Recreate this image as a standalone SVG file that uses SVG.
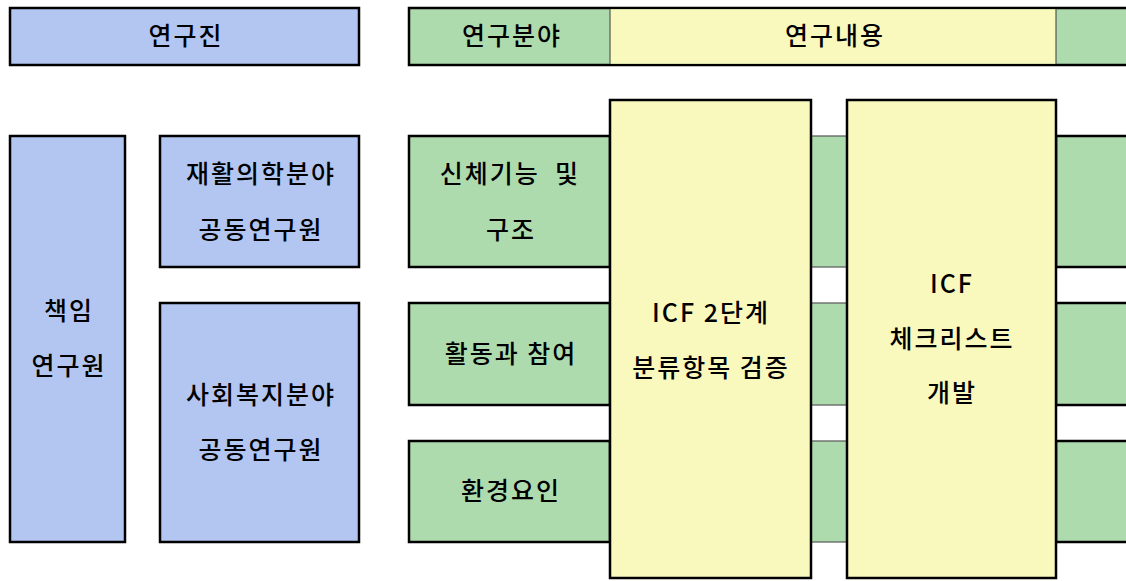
<svg xmlns="http://www.w3.org/2000/svg" width="1126" height="581" viewBox="0 0 1126 581">
<style>
.b{fill:#b3c6f2;stroke:#000;stroke-width:2.5}
.g{fill:#aedbae;stroke:#000;stroke-width:2.5}
.gt{fill:#aedbae;stroke:#555;stroke-width:1.2}
.y{fill:#f9f9be;stroke:#000;stroke-width:2.5}
.yt{fill:#f9f9be}
.sep{stroke:#555;stroke-width:1.2}
text{font-family:"Noto Sans CJK KR","Noto Sans",sans-serif;font-size:25px;font-weight:500;fill:#000;text-anchor:middle;letter-spacing:2px}
</style>
<rect width="1126" height="581" fill="#fff"/>
<g id="header-team">
<rect class="b" x="10" y="8" width="349" height="57"/>
<text x="186" y="45">연구진</text>
</g>
<g id="header-right">
<rect class="g" x="409" y="8" width="730" height="57"/>
<rect class="yt" x="610" y="9.3" width="446" height="54.4"/>
<line class="sep" x1="610" y1="9" x2="610" y2="64"/>
<line class="sep" x1="1056" y1="9" x2="1056" y2="64"/>
<text x="512" y="45">연구분야</text>
<text x="835" y="45">연구내용</text>
</g>
<g id="pi">
<rect class="b" x="10" y="136" width="115" height="406"/>
<text x="69" y="320">책임</text>
<text x="69" y="375">연구원</text>
</g>
<g id="rehab">
<rect class="b" x="160" y="136" width="199" height="131"/>
<text x="261" y="183">재활의학분야</text>
<text x="261" y="239">공동연구원</text>
</g>
<g id="welfare">
<rect class="b" x="160" y="303" width="199" height="239"/>
<text x="261" y="404">사회복지분야</text>
<text x="261" y="459">공동연구원</text>
</g>
<g id="row-body">
<rect class="g" x="409" y="136" width="201" height="131"/>
<rect class="gt" x="811" y="136" width="36" height="131"/>
<rect class="g" x="1056" y="136" width="80" height="131"/>
<text x="510" y="183" xml:space="preserve">신체기능  및</text>
<text x="511" y="239">구조</text>
</g>
<g id="row-activity">
<rect class="g" x="409" y="303" width="201" height="102"/>
<rect class="gt" x="811" y="303" width="36" height="102"/>
<rect class="g" x="1056" y="303" width="80" height="102"/>
<text x="511" y="363">활동과 참여</text>
</g>
<g id="row-env">
<rect class="g" x="409" y="441" width="201" height="101"/>
<rect class="gt" x="811" y="441" width="36" height="101"/>
<rect class="g" x="1056" y="441" width="80" height="101"/>
<text x="511" y="500">환경요인</text>
</g>
<g id="icf-verify">
<rect class="y" x="610" y="100" width="201" height="478"/>
<text x="711" y="322">ICF 2단계</text>
<text x="711" y="377">분류항목 검증</text>
</g>
<g id="icf-checklist">
<rect class="y" x="847" y="100" width="209" height="478"/>
<text x="952" y="293">ICF</text>
<text x="952" y="348">체크리스트</text>
<text x="952" y="402">개발</text>
</g>
<g id="connectors"></g>
</svg>
